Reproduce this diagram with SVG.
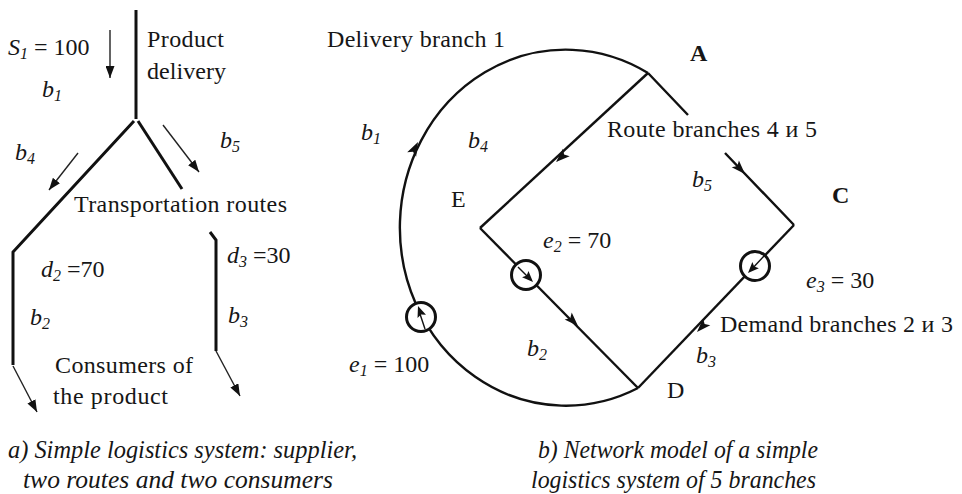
<svg xmlns="http://www.w3.org/2000/svg" width="962" height="494" viewBox="0 0 962 494">
<style>
text{font-family:"Liberation Serif","Times New Roman",serif;fill:#161616;font-size:24px}
.i{font-style:italic}
.sub{font-size:16px;font-style:italic}
.cap{font-style:italic;font-size:26px}
.thick{stroke:#111;stroke-width:3;fill:none;stroke-linecap:butt}
.thin{stroke:#222;stroke-width:1.4;fill:none;marker-end:url(#tah)}
.edge{stroke:#111;stroke-width:2.4;fill:none}
.ring{stroke:#111;stroke-width:3;fill:#fff}
.shaft{stroke:#111;stroke-width:1.4;fill:none}
.bold{font-weight:bold}
</style>
<defs>
<marker id="tah" markerUnits="userSpaceOnUse" viewBox="0 0 12 9" refX="12" refY="4.5" markerWidth="12" markerHeight="9" orient="auto">
<path d="M0,0 L12,4.5 L0,9 z" fill="#111"/>
</marker>
<path id="ah" d="M0,0 L-14,-5 L-11,0 L-14,5 z" fill="#111"/>
<path id="ahs" d="M0,0 L-11,-4.5 L-9,0 L-11,4.5 z" fill="#111"/>
</defs>

<!-- Left diagram: simple logistics system -->
<g id="left-system">
<g id="supply-line">
<path class="thick" d="M136,10 L136,119"/>
<path class="thin" d="M110,30 L110,78"/>
<text x="8" y="55"><tspan class="i">S</tspan><tspan class="sub" dy="4">1</tspan><tspan dy="-4"> = 100</tspan></text>
<text x="147" y="47" textLength="77">Product</text>
<text x="147" y="79" textLength="79">delivery</text>
<text x="42" y="97" class="i">b<tspan class="sub" dy="4">1</tspan></text>
</g>
<g id="route-left">
<path class="thick" d="M134,121 L13,252 L13,365"/>
<path class="thin" d="M78,153 L49,190"/>
<text x="15" y="160" class="i">b<tspan class="sub" dy="4">4</tspan></text>
</g>
<g id="route-right">
<path class="thick" d="M138,121 L182,189"/>
<path class="thin" d="M163,125 L199,172"/>
<text x="220" y="148" class="i">b<tspan class="sub" dy="4">5</tspan></text>
</g>
<text x="74" y="212" textLength="213">Transportation routes</text>
<g id="consumer-2">
<path class="thin" d="M13,366 L37,412"/>
<text x="41" y="277"><tspan class="i">d</tspan><tspan class="sub" dy="4">2</tspan><tspan dy="-4"> =70</tspan></text>
<text x="30" y="325" class="i">b<tspan class="sub" dy="4">2</tspan></text>
</g>
<g id="consumer-3">
<path class="thick" d="M210,232 L216,240 L216,351"/>
<path class="thin" d="M216,351 L240,396"/>
<text x="227" y="263"><tspan class="i">d</tspan><tspan class="sub" dy="4">3</tspan><tspan dy="-4"> =30</tspan></text>
<text x="228" y="323" class="i">b<tspan class="sub" dy="4">3</tspan></text>
</g>
<text x="55" y="373" textLength="138">Consumers of</text>
<text x="53" y="404" textLength="115">the product</text>
</g>

<!-- Right diagram: network model -->
<g id="connectors">
<g id="branch-1">
<path class="edge" d="M638,388 A166,178 0 1 1 648,73"/>
<use href="#ah" transform="translate(418,142) rotate(-63)"/>
<circle class="ring" cx="421" cy="317" r="14.5"/>
<path class="shaft" d="M425,329 L419,311"/>
<use href="#ahs" transform="translate(418,306) rotate(-110)"/>
</g>
<g id="branch-4">
<path class="edge" d="M648,73 L480,228"/>
<use href="#ah" transform="translate(556,162) rotate(137.3)"/>
</g>
<g id="branch-5">
<path class="edge" d="M648,73 L688,115 M725,153 L794,225"/>
<use href="#ah" transform="translate(745,174) rotate(46.2)"/>
</g>
<g id="branch-2">
<path class="edge" d="M480,228 L638,388"/>
<use href="#ah" transform="translate(578,326) rotate(45.4)"/>
<circle class="ring" cx="526" cy="275" r="14.5"/>
<path class="shaft" d="M518,267 L531,280"/>
<use href="#ahs" transform="translate(533,282) rotate(45.4)"/>
</g>
<g id="branch-3">
<path class="edge" d="M794,225 L638,388"/>
<use href="#ah" transform="translate(697,332) rotate(133.7)"/>
<circle class="ring" cx="755" cy="266" r="14.5"/>
<path class="shaft" d="M764,256 L751,270"/>
<use href="#ahs" transform="translate(748,273) rotate(133.7)"/>
</g>
</g>

<g id="node-A"><text x="690" y="61" class="bold">A</text></g>
<g id="node-E"><text x="451" y="207">E</text></g>
<g id="node-C"><text x="832" y="203" class="bold">C</text></g>
<g id="node-D"><text x="667" y="398">D</text></g>

<g id="labels-right">
<text x="327" y="47" textLength="178">Delivery branch 1</text>
<text x="361" y="140" class="i">b<tspan class="sub" dy="4">1</tspan></text>
<text x="468" y="148" class="i">b<tspan class="sub" dy="4">4</tspan></text>
<text x="607" y="137" textLength="210">Route branches 4 и 5</text>
<text x="692" y="187" class="i">b<tspan class="sub" dy="4">5</tspan></text>
<text x="543" y="248"><tspan class="i">e</tspan><tspan class="sub" dy="4">2</tspan><tspan dy="-4"> = 70</tspan></text>
<text x="806" y="288"><tspan class="i">e</tspan><tspan class="sub" dy="4">3</tspan><tspan dy="-4"> = 30</tspan></text>
<text x="720" y="332" textLength="233">Demand branches 2 и 3</text>
<text x="696" y="363" class="i">b<tspan class="sub" dy="4">3</tspan></text>
<text x="527" y="356" class="i">b<tspan class="sub" dy="4">2</tspan></text>
<text x="349" y="372"><tspan class="i">e</tspan><tspan class="sub" dy="4">1</tspan><tspan dy="-4"> = 100</tspan></text>
</g>

<g id="captions">
<text x="8" y="458" class="cap" textLength="349" lengthAdjust="spacingAndGlyphs">a) Simple logistics system: supplier,</text>
<text x="23" y="488" class="cap" textLength="310" lengthAdjust="spacingAndGlyphs">two routes and two consumers</text>
<text x="538" y="458" class="cap" textLength="280" lengthAdjust="spacingAndGlyphs">b) Network model of a simple</text>
<text x="531" y="488" class="cap" textLength="285" lengthAdjust="spacingAndGlyphs">logistics system of 5 branches</text>
</g>
</svg>
